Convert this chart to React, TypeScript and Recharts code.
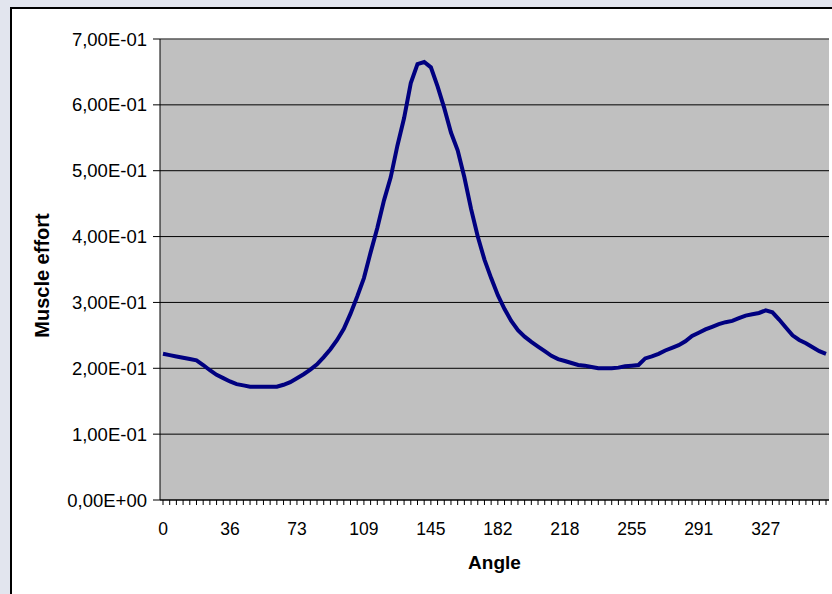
import React from 'react';
import { LineChart, Line, XAxis, YAxis, CartesianGrid, ReferenceLine } from 'recharts';

// 100 samples over one revolution, Excel-style category axis
const angles: number[] = Array.from({ length: 100 }, (_, i) => (i * 360) / 99);

const effort: number[] = [
  0.222, 0.22, 0.218, 0.216, 0.214, 0.212, 0.205, 0.197, 0.19, 0.185,
  0.18, 0.176, 0.174, 0.172, 0.172, 0.172, 0.172, 0.172, 0.175, 0.179,
  0.185, 0.191, 0.198, 0.206, 0.217, 0.229, 0.243, 0.26, 0.283, 0.309,
  0.337, 0.376, 0.413, 0.455, 0.49, 0.538, 0.58, 0.633, 0.662, 0.665,
  0.657, 0.628, 0.595, 0.558, 0.531, 0.49, 0.442, 0.4, 0.365, 0.337,
  0.311, 0.29, 0.272, 0.258, 0.248, 0.24, 0.233, 0.226, 0.219, 0.214,
  0.211, 0.208, 0.205, 0.204, 0.202, 0.2, 0.2, 0.2, 0.201, 0.203,
  0.204, 0.205, 0.215, 0.218, 0.222, 0.227, 0.231, 0.235, 0.241, 0.249,
  0.254, 0.259, 0.263, 0.267, 0.27, 0.272, 0.276, 0.28, 0.282, 0.284,
  0.288, 0.285, 0.274, 0.262, 0.25, 0.243, 0.238, 0.232, 0.226, 0.222,
];

const yTicks = [0, 0.1, 0.2, 0.3, 0.4, 0.5, 0.6, 0.7];

const data = angles.map((angle, i) => ({ angle, effort: effort[i] }));

const FONT = '"Liberation Sans", Arial, sans-serif';

function sci(v: number) {
  if (Math.abs(v) < 1e-12) return '0,00E+00';
  const e = Math.floor(Math.log10(v) + 1e-9);
  const m = v / Math.pow(10, e);
  return m.toFixed(2).replace('.', ',') + 'E' + (e < 0 ? '-' : '+') + String(Math.abs(e)).padStart(2, '0');
}

const YTitle = (props: any) => {
  const vb = props.viewBox;
  const x = vb.x + 39;
  const y = vb.y + vb.height / 2 + 6;
  return (
    <text
      x={x}
      y={y}
      transform={`rotate(-90 ${x} ${y})`}
      textAnchor="middle"
      fontFamily={FONT}
      fontSize={20}
      fontWeight="bold"
      fill="#000"
    >
      Muscle effort
    </text>
  );
};

export default function App() {
  return (
    <div style={{ position: 'fixed', inset: 0, background: '#E2E5EE', fontFamily: FONT }}>
      <div
        style={{
          position: 'absolute',
          left: 10,
          top: 7,
          width: 840,
          height: 600,
          background: '#fff',
          border: '2px solid #000',
        }}
      />
      <div style={{ position: 'absolute', left: 0, top: 0 }}>
        <LineChart width={832} height={594} data={data} margin={{ top: 39, right: 3, left: 10, bottom: 14 }}>
          <CartesianGrid vertical={false} fill="#C0C0C0" stroke="#000" strokeWidth={1} fillOpacity={1} />
          <XAxis
            dataKey="angle"
            interval={0}
            padding={{ left: 3, right: 3 }}
            tickFormatter={(v: number, i: number) => (i % 10 === 0 ? String(Math.round(v)) : '')}
            tick={{ fill: '#000', fontSize: 17.5, fontFamily: FONT }}
            tickSize={5}
            tickMargin={18}
            height={80}
            axisLine={{ stroke: '#000' }}
            tickLine={{ stroke: '#000' }}
            label={{
              value: 'Angle',
              position: 'insideBottom',
              offset: 11,
              fill: '#000',
              fontSize: 19,
              fontWeight: 'bold',
              fontFamily: FONT,
            }}
          />
          <YAxis
            domain={[0, 0.7]}
            ticks={yTicks}
            tickFormatter={sci}
            width={150}
            tick={{ fill: '#000', fontSize: 18.5, fontFamily: FONT }}
            tickSize={7}
            tickMargin={6}
            axisLine={{ stroke: '#000' }}
            tickLine={{ stroke: '#000' }}
            label={YTitle}
          />
          <YAxis
            yAxisId="frame"
            orientation="right"
            domain={[0, 0.7]}
            width={0}
            tick={false}
            tickLine={false}
            axisLine={{ stroke: '#808080' }}
          />
          <ReferenceLine y={0.7} stroke="#808080" strokeWidth={1} />
          <Line
            type="linear"
            dataKey="effort"
            stroke="#000080"
            strokeWidth={4}
            dot={false}
            isAnimationActive={false}
          />
        </LineChart>
      </div>
    </div>
  );
}
